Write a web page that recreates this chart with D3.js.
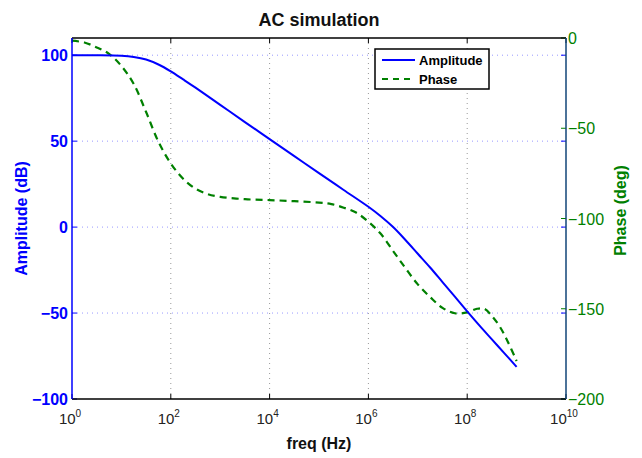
<!DOCTYPE html>
<html>
<head>
<script src="https://d3js.org/d3.v7.min.js" charset="utf-8"></script>
<style>
    body{ margin:0; background:#fff; font-family:"Liberation Sans",Arial,Helvetica,sans-serif; }
</style>
</head>
<body>
<div id="chart"></div>
<script>
// amplitude samples: exponent of freq (10^e Hz) and dB
var ampExp = [0, 0.5, 1.0, 1.25, 1.5, 1.75, 2.0, 2.25, 2.5, 3.0, 3.5, 4.0, 4.5, 5.0, 5.5, 6.0, 6.25, 6.5, 6.75, 7.0, 7.25, 7.5, 7.75, 8.0, 8.25, 8.5, 8.75, 9.0]
var ampDb  = [100, 100, 99.7, 99.0, 97.5, 94.6, 90.6, 85.9, 81.1, 71.1, 61.1, 51.2, 41.3, 31.4, 21.6, 11.8, 6.3, 0, -7.5, -15.5, -23.5, -32, -40.5, -49, -57.3, -65.3, -73.3, -81.3]

// phase samples
var phaseExp = [0, 0.25, 0.5, 0.75, 1.0, 1.25, 1.5, 1.75, 2.0, 2.25, 2.5, 2.75, 3.0, 3.5, 4.0, 4.5, 5.0, 5.25, 5.5, 5.75, 6.0, 6.25, 6.5, 6.75, 7.0, 7.25, 7.5, 7.75, 8.0, 8.2, 8.35, 8.5, 8.65, 8.8, 9.0]
var phaseDeg = [-1.5, -2.5, -5.2, -8.8, -15.5, -25.5, -41, -57.5, -69.5, -78, -83.5, -86.5, -88, -89.3, -89.8, -90.4, -91.2, -92, -94, -96.7, -101.8, -108.5, -118, -127.5, -136.5, -143.5, -149.5, -152.5, -152, -150, -150, -154, -159.5, -167, -179]

var xTickExp = [0, 2, 4, 6, 8, 10]
var ampTicks = [-100, -50, 0, 50, 100]
var phaseTicks = [-200, -150, -100, -50, 0]
var seriesNames = ["Amplitude", "Phase"]

var W = 642, H = 458
var m = {left:72, right:76, top:38, bottom:59}
var pw = W - m.left - m.right, ph = H - m.top - m.bottom

var blue = "#0000ff", green = "#008000"

var svg = d3.select("#chart").append("svg").attr("width", W).attr("height", H)

var x = d3.scaleLog().domain([1, 1e10]).range([m.left, m.left + pw])
var yA = d3.scaleLinear().domain([-100, 110]).range([m.top + ph, m.top])
var yP = d3.scaleLinear().domain([-200, 0]).range([m.top + ph, m.top])

// grid
svg.append("g").selectAll("line").data(xTickExp.slice(1, -1)).enter().append("line")
    .attr("x1", function(d){ return x(Math.pow(10, d)) }).attr("x2", function(d){ return x(Math.pow(10, d)) })
    .attr("y1", m.top).attr("y2", m.top + ph)
    .attr("stroke", "#999").attr("stroke-width", 1).attr("stroke-dasharray", "1,4")
svg.append("g").selectAll("line").data(ampTicks.slice(1)).enter().append("line")
    .attr("x1", m.left).attr("x2", m.left + pw)
    .attr("y1", function(d){ return yA(d) }).attr("y2", function(d){ return yA(d) })
    .attr("stroke", "#9999ff").attr("stroke-width", 1).attr("stroke-dasharray", "1,4")

// lines
var ampLine = d3.line()
    .x(function(d, i){ return x(Math.pow(10, ampExp[i])) })
    .y(function(d){ return yA(d) })
    .curve(d3.curveCatmullRom)
var phaseLine = d3.line()
    .x(function(d, i){ return x(Math.pow(10, phaseExp[i])) })
    .y(function(d){ return yP(d) })
    .curve(d3.curveCatmullRom)

svg.append("path").datum(phaseDeg).attr("d", phaseLine)
    .attr("fill", "none").attr("stroke", green).attr("stroke-width", 2.2).attr("stroke-dasharray", "7,5")
svg.append("path").datum(ampDb).attr("d", ampLine)
    .attr("fill", "none").attr("stroke", blue).attr("stroke-width", 2)

// x axis ticks (top + bottom, inward)
var tk = 5
xTickExp.forEach(function(e){
    var px = x(Math.pow(10, e))
    svg.append("line").attr("x1", px).attr("x2", px).attr("y1", m.top + ph).attr("y2", m.top + ph - tk).attr("stroke", "#000")
    svg.append("line").attr("x1", px).attr("x2", px).attr("y1", m.top).attr("y2", m.top + tk).attr("stroke", "#000")
    var t = svg.append("text").attr("x", px - 2).attr("y", m.top + ph + 25)
        .attr("text-anchor", "middle").attr("font-size", 15).attr("fill", "#222")
    t.append("tspan").text("10")
    t.append("tspan").attr("dy", -7).attr("font-size", 10).text(e)
})

// left axis ticks
ampTicks.forEach(function(v){
    var py = yA(v)
    svg.append("line").attr("x1", m.left).attr("x2", m.left + tk).attr("y1", py).attr("y2", py).attr("stroke", blue)
    svg.append("line").attr("x1", m.left + pw).attr("x2", m.left + pw - tk).attr("y1", py).attr("y2", py).attr("stroke", blue)
    svg.append("text").attr("x", m.left - 4).attr("y", py + 6)
        .attr("text-anchor", "end").attr("font-size", 16).attr("font-weight", "bold").attr("fill", blue)
        .text(String(v).replace("-", "\u2212"))
})

// right axis ticks
phaseTicks.forEach(function(v){
    var py = yP(v)
    svg.append("line").attr("x1", m.left + pw).attr("x2", m.left + pw - tk).attr("y1", py).attr("y2", py).attr("stroke", green)
    svg.append("text").attr("x", m.left + pw + 2).attr("y", py + 6)
        .attr("text-anchor", "start").attr("font-size", 16).attr("fill", green)
        .text(String(v).replace("-", "\u2212"))
})

// frame
svg.append("line").attr("x1", m.left).attr("x2", m.left + pw).attr("y1", m.top).attr("y2", m.top).attr("stroke", "#000").attr("stroke-width", 1.5)
svg.append("line").attr("x1", m.left).attr("x2", m.left + pw).attr("y1", m.top + ph).attr("y2", m.top + ph).attr("stroke", "#000").attr("stroke-width", 1.5)
svg.append("line").attr("x1", m.left).attr("x2", m.left).attr("y1", m.top).attr("y2", m.top + ph).attr("stroke", blue).attr("stroke-width", 1.5)
svg.append("line").attr("x1", m.left + pw).attr("x2", m.left + pw).attr("y1", m.top).attr("y2", m.top + ph).attr("stroke", "#114477").attr("stroke-width", 1.5)

// titles
svg.append("text").attr("x", m.left + pw / 2).attr("y", 26).attr("text-anchor", "middle")
    .attr("font-size", 18).attr("font-weight", "bold").attr("fill", "#111").text("AC simulation")
svg.append("text").attr("x", m.left + pw / 2).attr("y", 449).attr("text-anchor", "middle")
    .attr("font-size", 16).attr("font-weight", "bold").attr("fill", "#111").text("freq (Hz)")
svg.append("text").attr("transform", "translate(27," + (m.top + ph / 2) + ") rotate(-90)").attr("text-anchor", "middle")
    .attr("font-size", 16).attr("font-weight", "bold").attr("fill", blue).text("Amplitude (dB)")
svg.append("text").attr("transform", "translate(626," + (m.top + ph / 2 - 8) + ") rotate(-90)").attr("text-anchor", "middle")
    .attr("font-size", 16).attr("font-weight", "bold").attr("fill", green).text("Phase (deg)")

// legend
var lg = svg.append("g").attr("transform", "translate(375,49)")
lg.append("rect").attr("width", 114).attr("height", 40).attr("fill", "#fff").attr("stroke", "#000").attr("stroke-width", 1.5)
seriesNames.forEach(function(n, i){
    var ly = 11 + i * 19
    lg.append("line").attr("x1", 7).attr("x2", 40).attr("y1", ly).attr("y2", ly)
        .attr("stroke", i == 0 ? blue : green).attr("stroke-width", 2)
        .attr("stroke-dasharray", i == 0 ? null : "6,5")
    lg.append("text").attr("x", 44).attr("y", ly + 5).attr("font-size", 13).attr("font-weight", "bold").attr("fill", "#000").text(n)
})
</script>
</body>
</html>
